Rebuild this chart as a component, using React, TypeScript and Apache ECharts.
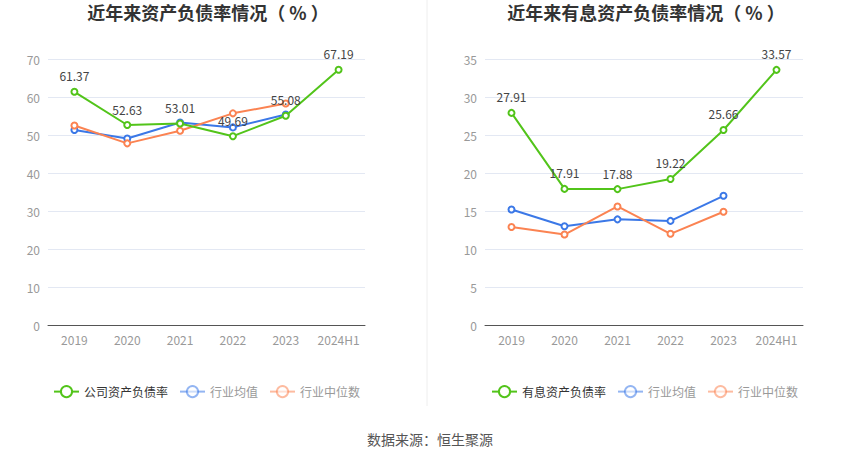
import React, { useEffect, useRef } from "react";
import * as echarts from "echarts";

const years = ["2019", "2020", "2021", "2022", "2023", "2024H1"];
const leftCompany = [61.37, 52.63, 53.01, 49.69, 55.08, 67.19];
const leftAvg = [51.3, 49.1, 53.3, 52.0, 55.4, null];
const leftMedian = [52.5, 47.8, 51.1, 55.7, 58.3, null];
const rightCompany = [27.91, 17.91, 17.88, 19.22, 25.66, 33.57];
const rightAvg = [15.2, 13.0, 13.9, 13.7, 17.0, null];
const rightMedian = [12.9, 11.9, 15.6, 12.0, 14.9, null];
const leftNames = ["公司资产负债率", "行业均值", "行业中位数"];
const rightNames = ["有息资产负债率", "行业均值", "行业中位数"];
const titles = ["近年来资产负债率情况（ % ）", "近年来有息资产负债率情况（ % ）"];
const source = "数据来源：恒生聚源";

const GREEN = "#52c41a";
const BLUE = "#3b78e7";
const ORANGE = "#fb8352";
const FONT = "'Noto Sans CJK SC', 'Noto Sans', sans-serif";

export default function App() {
  const ref = useRef<HTMLDivElement>(null);
  useEffect(() => {
    document.body.style.margin = "0";
    const chart = echarts.init(ref.current!, null, { renderer: "svg" });
    const axisX = (gi: number) => ({
      type: "category",
      gridIndex: gi,
      data: years,
      boundaryGap: true,
      axisLine: { lineStyle: { color: "#555" } },
      axisTick: { alignWithLabel: true, lineStyle: { color: "#555" } },
      axisLabel: { color: "#999", fontSize: 12, fontFamily: FONT, margin: 8, interval: 0 },
    });
    const axisY = (gi: number, max: number, interval: number) => ({
      type: "value",
      gridIndex: gi,
      min: 0,
      max,
      interval,
      axisLine: { show: false },
      axisTick: { show: false },
      axisLabel: { color: "#999", fontSize: 12, fontFamily: FONT, margin: 8 },
      splitLine: { lineStyle: { color: "#e3e8f3" } },
    });
    const mk = (name: string, data: any[], color: string, xi: number, label: boolean) => ({
      type: "line",
      name,
      data,
      xAxisIndex: xi,
      yAxisIndex: xi,
      symbol: "emptyCircle",
      symbolSize: 6,
      lineStyle: { color, width: 2 },
      itemStyle: { color, borderWidth: 2 },
      label: label
        ? { show: true, position: "top", color: "#444", fontSize: 12, fontFamily: FONT, distance: 6 }
        : { show: false },
      z: label ? 3 : 2,
    });
    const legendData = (names: string[]) => [
      { name: names[0], textStyle: { color: "#333" } },
      { name: names[1], itemStyle: { opacity: 0.55 }, lineStyle: { opacity: 0.55 }, textStyle: { color: "#999" } },
      { name: names[2], itemStyle: { opacity: 0.55 }, lineStyle: { opacity: 0.55 }, textStyle: { color: "#999" } },
    ];
    const legendCommon = {
      top: 380,
      itemWidth: 25,
      itemHeight: 14,
      itemGap: 11,
      textStyle: { fontSize: 12, fontFamily: FONT },
    };
    chart.setOption({
      animation: false,
      backgroundColor: "#fff",
      title: [
        { text: titles[0], left: 203, top: -2, textAlign: "center", textStyle: { fontSize: 18, fontWeight: "bold", color: "#333", fontFamily: FONT } },
        { text: titles[1], left: 641, top: -2, textAlign: "center", textStyle: { fontSize: 18, fontWeight: "bold", color: "#333", fontFamily: FONT } },
        { text: source, left: 425, top: 427, textAlign: "center", textStyle: { fontSize: 14, fontWeight: "normal", color: "#555", fontFamily: FONT } },
      ],
      legend: [
        { ...legendCommon, left: 48, data: legendData(leftNames) },
        { ...legendCommon, left: 486, data: legendData(rightNames) },
      ],
      grid: [
        { left: 48, top: 59, width: 317, height: 266 },
        { left: 485, top: 59, width: 318, height: 266 },
      ],
      xAxis: [axisX(0), axisX(1)],
      yAxis: [axisY(0, 70, 10), axisY(1, 35, 5)],
      series: [
        mk(leftNames[0], leftCompany, GREEN, 0, true),
        mk(leftNames[1], leftAvg, BLUE, 0, false),
        mk(leftNames[2], leftMedian, ORANGE, 0, false),
        mk(rightNames[0], rightCompany, GREEN, 1, true),
        mk(rightNames[1], rightAvg, BLUE, 1, false),
        mk(rightNames[2], rightMedian, ORANGE, 1, false),
      ],
      graphic: [
        { type: "line", shape: { x1: 427, y1: 0, x2: 427, y2: 406 }, style: { stroke: "#eee", lineWidth: 1 } },
      ],
    });
    return () => chart.dispose();
  }, []);
  return <div ref={ref} style={{ width: 850, height: 459 }} />;
}
